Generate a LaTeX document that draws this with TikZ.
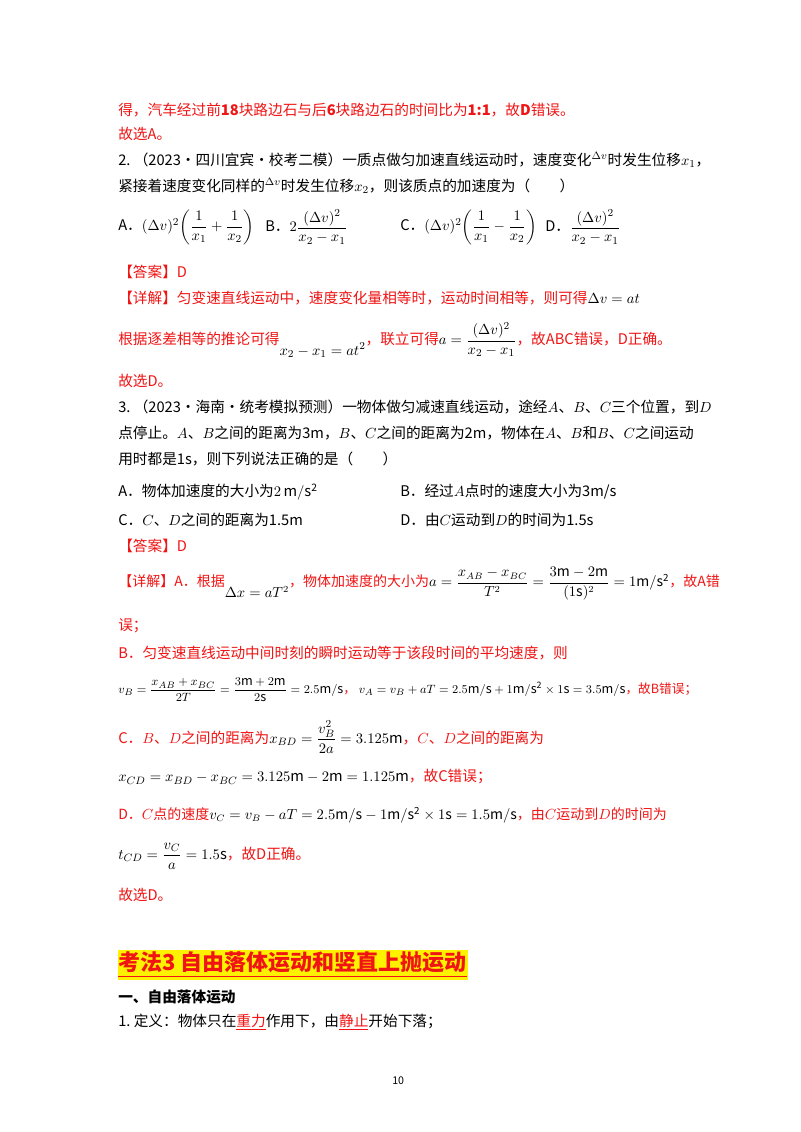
\documentclass[tikz,border=0pt]{standalone}
\usepackage{amsmath}
\usepackage{fontspec}
\setmainfont{Noto Sans CJK SC}
\definecolor{ans}{RGB}{240,20,20}
\begin{document}
\begin{tikzpicture}[x=0.75pt,y=-0.75pt,
  t/.style={anchor=west,inner sep=0pt,font=\fontsize{11}{13}\selectfont},
  r/.style={t,text=ans}]
\useasboundingbox[fill=white] (0,0) rectangle (800,1132);
\node[r] (l1) at (118,110) {得，汽车经过前\textbf{18}块路边石与后\textbf{6}块路边石的时间比为\textbf{1:1}，故\textbf{D}错误。};
\node[r] (l2) at (118,134) {故选A。};
\node[t] (q2a) at (118,160) {2.\ （2023·四川宜宾·校考二模）一质点做匀加速直线运动时，速度变化$^{\Delta v}$时发生位移$x_1$，};
\node[t] (q2b) at (118,186) {紧接着速度变化同样的$^{\Delta v}$时发生位移$x_2$，则该质点的加速度为（\qquad）};
\node[t] (oA) at (118,227) {A．$(\Delta v)^2\!\left(\dfrac{1}{x_1}+\dfrac{1}{x_2}\right)$};
\node[t] (oB) at (265,227) {B．$2\dfrac{(\Delta v)^2}{x_2-x_1}$};
\node[t] (oC) at (400,227) {C．$(\Delta v)^2\!\left(\dfrac{1}{x_1}-\dfrac{1}{x_2}\right)$};
\node[t] (oD) at (545,227) {D．$\dfrac{(\Delta v)^2}{x_2-x_1}$};
\node[r] (a2) at (118,272) {【答案】D};
\node[r] (d2) at (118,298) {【详解】匀变速直线运动中，速度变化量相等时，运动时间相等，则可得\textcolor{black}{$\Delta v=at$}};
\node[r] (d2b) at (118,340) {根据逐差相等的推论可得\textcolor{black}{$\raisebox{-8pt}{$x_2-x_1=at^2$}$}，联立可得\textcolor{black}{$a=\dfrac{(\Delta v)^2}{x_2-x_1}$}，故ABC错误，D正确。};
\node[r] (s2) at (118,381) {故选D。};
\node[t] (q3a) at (118,407) {3.\ （2023·海南·统考模拟预测）一物体做匀减速直线运动，途经$A$、$B$、$C$三个位置，到$D$};
\node[t] (q3b) at (118,433) {点停止。$A$、$B$之间的距离为3m，$B$、$C$之间的距离为2m，物体在$A$、$B$和$B$、$C$之间运动};
\node[t] (q3c) at (118,459) {用时都是1s，则下列说法正确的是（\qquad）};
\node[t] (p3A) at (118,492) {A．物体加速度的大小为$2\,\mathrm{m/s^2}$};
\node[t] (p3B) at (400,492) {B．经过$A$点时的速度大小为3m/s};
\node[t] (p3C) at (118,520) {C．$C$、$D$之间的距离为1.5m};
\node[t] (p3D) at (400,520) {D．由$C$运动到$D$的时间为1.5s};
\node[r] (a3) at (118,546) {【答案】D};
\node[r,font=\fontsize{10.5}{12}\selectfont] (d3a) at (118,584) {【详解】A．根据\textcolor{black}{$\raisebox{-8pt}{$\Delta x=aT^2$}$}，物体加速度的大小为\textcolor{black}{$a=\dfrac{x_{AB}-x_{BC}}{T^2}=\dfrac{3\mathrm{m}-2\mathrm{m}}{(1\mathrm{s})^2}=1\mathrm{m/s^2}$}，故A错};
\node[r] (d3b) at (118,626) {误；};
\node[r] (d3c) at (118,653) {B．匀变速直线运动中间时刻的瞬时运动等于该段时间的平均速度，则};
\node[t,font=\fontsize{9.5}{11}\selectfont] (d3d) at (118,690) {$v_B=\dfrac{x_{AB}+x_{BC}}{2T}=\dfrac{3\mathrm{m}+2\mathrm{m}}{2\mathrm{s}}=2.5\mathrm{m/s}$\textcolor{ans}{，}\ $v_A=v_B+aT=2.5\mathrm{m/s}+1\mathrm{m/s^2}\times1\mathrm{s}=3.5\mathrm{m/s}$\textcolor{ans}{，故B错误；}};
\node[r] (d3e) at (118,737) {C．$B$、$D$之间的距离为\textcolor{black}{$x_{BD}=\dfrac{v_B^2}{2a}=3.125\mathrm{m}$}，$C$、$D$之间的距离为};
\node[t] (d3f) at (118,777) {$x_{CD}=x_{BD}-x_{BC}=3.125\mathrm{m}-2\mathrm{m}=1.125\mathrm{m}$\textcolor{ans}{，故C错误；}};
\node[r,font=\fontsize{10.5}{12}\selectfont] (d3g) at (118,815) {D．$C$点的速度\textcolor{black}{$v_C=v_B-aT=2.5\mathrm{m/s}-1\mathrm{m/s^2}\times1\mathrm{s}=1.5\mathrm{m/s}$}，由$C$运动到$D$的时间为};
\node[t] (d3h) at (118,856) {$t_{CD}=\dfrac{v_C}{a}=1.5\mathrm{s}$\textcolor{ans}{，故D正确。}};
\node[r] (s3) at (118,895) {故选D。};
\fill[yellow] (118,950) rectangle (468,980);
\node[t,text=ans,font=\fontsize{16.5}{19}\selectfont\bfseries] (h) at (118,965) {\underline{考法3\ 自由落体运动和竖直上抛运动}};
\node[t,font=\fontsize{11}{13}\selectfont\bfseries] (h1) at (118,997) {一、自由落体运动};
\node[t] (def) at (118,1022) {1.\ 定义：物体只在\textcolor{ans}{\underline{重力}}作用下，由\textcolor{ans}{\underline{静止}}开始下落；};
\node[t,font=\fontsize{8}{10}\selectfont] (pg) at (392,1081) {10};
\end{tikzpicture}
\end{document}
